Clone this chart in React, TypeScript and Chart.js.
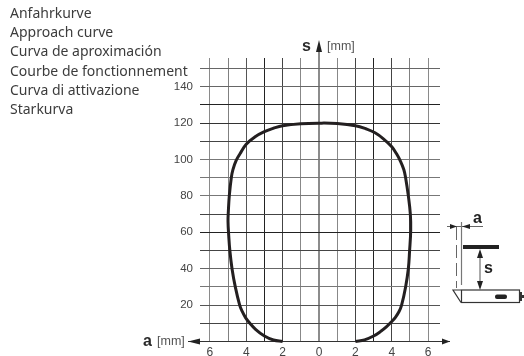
import React, { useEffect, useRef } from "react";
import { Chart, registerables } from "chart.js";

Chart.register(...registerables);

const captionLines = [
  "Anfahrkurve",
  "Approach curve",
  "Curva de aproximación",
  "Courbe de fonctionnement",
  "Curva di attivazione",
  "Starkurva",
];
const aTicks = [-6, -5, -4, -3, -2, -1, 0, 1, 2, 3, 4, 5, 6];
const sTicks = [0, 10, 20, 30, 40, 50, 60, 70, 80, 90, 100, 110, 120, 130, 140, 150];
const curveA = [-2, -2.5, -3, -3.5, -3.8, -4.03, -4.22, -4.36, -4.6, -4.78, -4.9, -4.96, -5, -4.98, -4.93, -4.82, -4.73, -4.55, -4.35, -4, -3.51, -3, -2.5, -2, -1, 0, 1, 2, 2.6, 3.08, 3.54, 4, 4.27, 4.48, 4.66, 4.76, 4.91, 5.02, 5.04, 4.98, 4.91, 4.76, 4.54, 4.4, 4.2, 4, 3.7, 3.4, 3, 2.5, 2];
const curveS = [0, 0.8, 3, 6.8, 10, 13, 16.5, 20, 30, 40, 50, 58, 66, 72, 80, 90, 94.5, 99.5, 103, 108.4, 112.5, 115.3, 117.2, 118.6, 119.7, 120, 119.8, 118.6, 116.8, 114.7, 111.4, 107, 103, 99, 94.5, 90, 80, 70, 61, 50, 40, 30, 20, 16.5, 13.3, 11, 8, 5.6, 3, 0.9, 0];

const aShade: Record<number, string> = { "-6": "#8a8a8a", "-5": "#808080", "-4": "#555", "-3": "#222", "-2": "#444", "-1": "#888", "0": "#8c8c8c", "1": "#888", "2": "#444", "3": "#222", "4": "#444", "5": "#808080", "6": "#8a8a8a" };
const sShade: Record<number, string> = { 0: "#333", 10: "#444", 20: "#555", 30: "#777", 40: "#666", 50: "#444", 60: "#222", 70: "#444", 80: "#777", 90: "#777", 100: "#777", 110: "#444", 120: "#333", 130: "#222", 140: "#666", 150: "#666" };

const decor = {
  id: "decor",
  afterDraw(chart: any) {
    const c = chart.ctx as CanvasRenderingContext2D;
    c.save();
    c.textBaseline = "middle";
    c.textAlign = "left";
    c.fillStyle = "#3c3c3c";
    c.font = '14px "Noto Sans"';
    captionLines.forEach((t, i) => c.fillText(t, 10, 14 + i * 19.2));

    const tri = (x1: number, y1: number, x2: number, y2: number, x3: number, y3: number, col = "#222") => {
      c.fillStyle = col;
      c.beginPath();
      c.moveTo(x1, y1);
      c.lineTo(x2, y2);
      c.lineTo(x3, y3);
      c.closePath();
      c.fill();
    };
    const line = (x1: number, y1: number, x2: number, y2: number, w = 1, col = "#333") => {
      c.strokeStyle = col;
      c.lineWidth = w;
      c.beginPath();
      c.moveTo(x1, y1);
      c.lineTo(x2, y2);
      c.stroke();
    };
    // axis captions and arrows
    c.fillStyle = "#2a2a2a";
    c.font = 'bold 16px "Liberation Sans"';
    c.fillText("s", 302, 47);
    c.fillText("a", 143, 342);
    c.fillStyle = "#555";
    c.font = '12.5px "Liberation Sans"';
    c.fillText("[mm]", 327, 47);
    c.fillText("[mm]", 157, 342);
    line(319, 50, 319, 58, 2, "#8c8c8c");
    tri(319, 40, 316, 52, 322, 52);
    line(188, 341.5, 200, 341.5, 1, "#333");
    line(440, 341.5, 450, 341.5, 1, "#333");
    tri(188, 341.5, 200, 338.5, 200, 344.5);
    tri(450, 341.5, 442, 338.5, 442, 344.5);

    // sensor sketch
    line(447, 226.5, 483, 226.5, 1, "#666");
    tri(457, 226.5, 450, 224, 450, 229);
    tri(462, 226.5, 470, 224, 470, 229);
    c.setLineDash([13, 5]);
    line(456.5, 227, 456.5, 288, 1, "#666");
    c.setLineDash([]);
    line(461.5, 222, 461.5, 285, 1.2, "#777");
    line(463, 247, 499, 247, 4, "#222");
    line(480, 252, 480, 286, 1, "#555");
    tri(480, 249, 477, 258, 483, 258);
    tri(480, 290, 477, 281, 483, 281);
    c.fillStyle = "#222";
    c.font = 'bold 16px "Liberation Sans"';
    c.fillText("a", 473, 219);
    c.fillText("s", 484, 269);
    c.strokeStyle = "#333";
    c.lineWidth = 1.2;
    c.strokeRect(461.5, 290, 58, 12.5);
    c.beginPath();
    c.moveTo(461, 290);
    c.lineTo(453, 290);
    c.lineTo(461, 302.5);
    c.stroke();
    c.fillStyle = "#333";
    c.fillRect(520, 292, 2, 9);
    c.fillRect(522, 295, 2, 3);
    c.fillStyle = "#222";
    c.beginPath();
    c.roundRect(495, 294.5, 12, 4.5, 2);
    c.fill();
    c.restore();
  },
};

export default function App() {
  const ref = useRef<HTMLCanvasElement>(null);
  useEffect(() => {
    const chart = new Chart(ref.current!, {
      type: "scatter",
      data: {
        datasets: [
          {
            data: curveA.map((a, i) => ({ x: a, y: curveS[i] })),
            showLine: true,
            borderColor: "#231f20",
            borderWidth: 3,
            pointRadius: 0,
            tension: 0.4,
            capBezierPoints: false,
            clip: false as any,
          },
        ],
      },
      plugins: [decor],
      options: {
        animation: false,
        responsive: false,
        layout: { padding: { top: 58, right: 84, left: 0, bottom: 0 } },
        plugins: { legend: { display: false }, tooltip: { enabled: false } },
        scales: {
          x: {
            type: "linear",
            min: -6.54,
            max: 6.65,
            afterBuildTicks: (s: any) => { s.ticks = aTicks.map((value) => ({ value })); },
            afterFit: (s: any) => { s.height = 14.5; },
            border: { display: false },
            grid: {
              drawTicks: false,
              color: (ctx: any) => aShade[ctx.tick?.value] ?? "#888",
              lineWidth: (ctx: any) => (ctx.tick?.value === 0 ? 2 : 1),
            },
            ticks: {
              autoSkip: false,
              maxRotation: 0,
              padding: 4,
              color: "#444",
              font: { family: "Liberation Sans", size: 12 },
              callback: (v: any) => (Number(v) % 2 === 0 ? String(Math.abs(Number(v))) : ""),
            },
          },
          y: {
            type: "linear",
            min: 0,
            max: 155.8,
            afterBuildTicks: (s: any) => { s.ticks = sTicks.map((value) => ({ value })); },
            afterFit: (s: any) => { s.width = 200; },
            border: { display: false },
            grid: {
              drawTicks: false,
              color: (ctx: any) => sShade[ctx.tick?.value] ?? "#666",
            },
            ticks: {
              autoSkip: false,
              padding: 7,
              color: "#444",
              font: { family: "Liberation Sans", size: 11.5 },
              callback: (v: any) => {
                const n = Number(v);
                return n > 0 && n < 150 && n % 20 === 0 ? String(n) : "";
              },
            },
          },
        },
      },
    });
    return () => chart.destroy();
  }, []);
  return (
    <canvas
      ref={ref}
      width={524}
      height={356}
      style={{ position: "fixed", left: 0, top: 0, width: 524, height: 356, display: "block", background: "#fff" }}
    />
  );
}
